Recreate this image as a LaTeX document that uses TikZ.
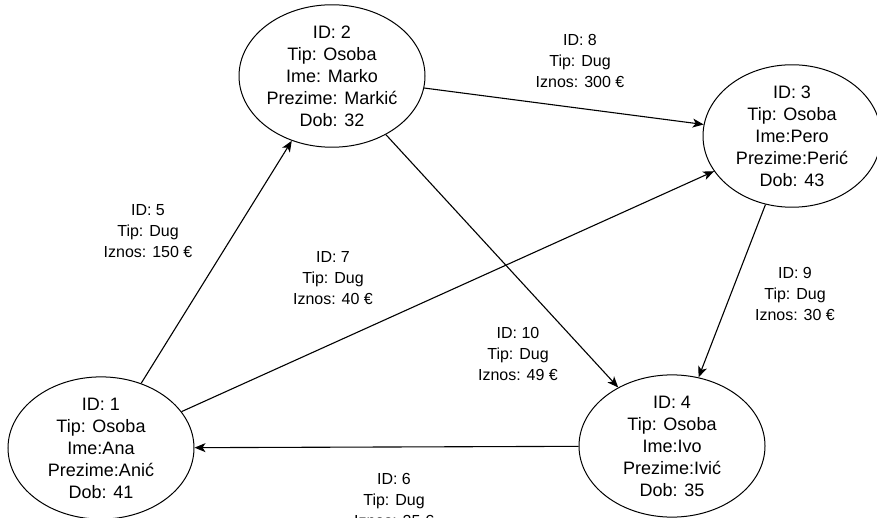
\documentclass[tikz,border=0pt]{standalone}
\usepackage{fontspec}
\setmainfont{Liberation Sans}
\usetikzlibrary{shapes.geometric,arrows.meta}

\begin{document}
\begin{tikzpicture}[x=1pt, y=-1pt,
        person/.style={draw, ellipse, line width=1pt, minimum width=186pt, minimum height=122pt, inner sep=0pt, align=center, font=\fontsize{18}{22}\selectfont},
        debt/.style={align=center, inner sep=0pt, font=\fontsize{16}{21}\selectfont},
        link/.style={-{Stealth[length=11pt, width=9pt, inset=3pt]}, line width=1.1pt}
    ]
        \useasboundingbox (0,0) rectangle (877,518);

        \node[person] (p1) at (101,448) {ID: 1\\Tip: Osoba\\Ime:Ana\\Prezime:Anić\\Dob: 41};
        \node[person] (p2) at (332,76) {ID: 2\\Tip: Osoba\\Ime: Marko\\Prezime: Markić\\Dob: 32};
        \node[person, minimum width=178pt] (p3) at (792,136) {ID: 3\\Tip: Osoba\\Ime:Pero\\Prezime:Perić\\Dob: 43};
        \node[person] (p4) at (672,446) {ID: 4\\Tip: Osoba\\Ime:Ivo\\Prezime:Ivić\\Dob: 35};

        \draw[link] (p1) -- (p2);
        \draw[link] (p1) -- (p3);
        \draw[link] (p2) -- (p3);
        \draw[link] (p2) -- (p4);
        \draw[link] (p3) -- (p4);
        \draw[link] (p4) -- (p1);

        \node[debt] (d5) at (148,231) {ID: 5\\Tip: Dug\\Iznos: 150 €};
        \node[debt] (d6) at (394,500) {ID: 6\\Tip: Dug\\Iznos: 25 €};
        \node[debt] (d7) at (333,278) {ID: 7\\Tip: Dug\\Iznos: 40 €};
        \node[debt] (d8) at (580,61) {ID: 8\\Tip: Dug\\Iznos: 300 €};
        \node[debt] (d9) at (795,294) {ID: 9\\Tip: Dug\\Iznos: 30 €};
        \node[debt] (d10) at (518,354) {ID: 10\\Tip: Dug\\Iznos: 49 €};
    \end{tikzpicture}
\end{document}
